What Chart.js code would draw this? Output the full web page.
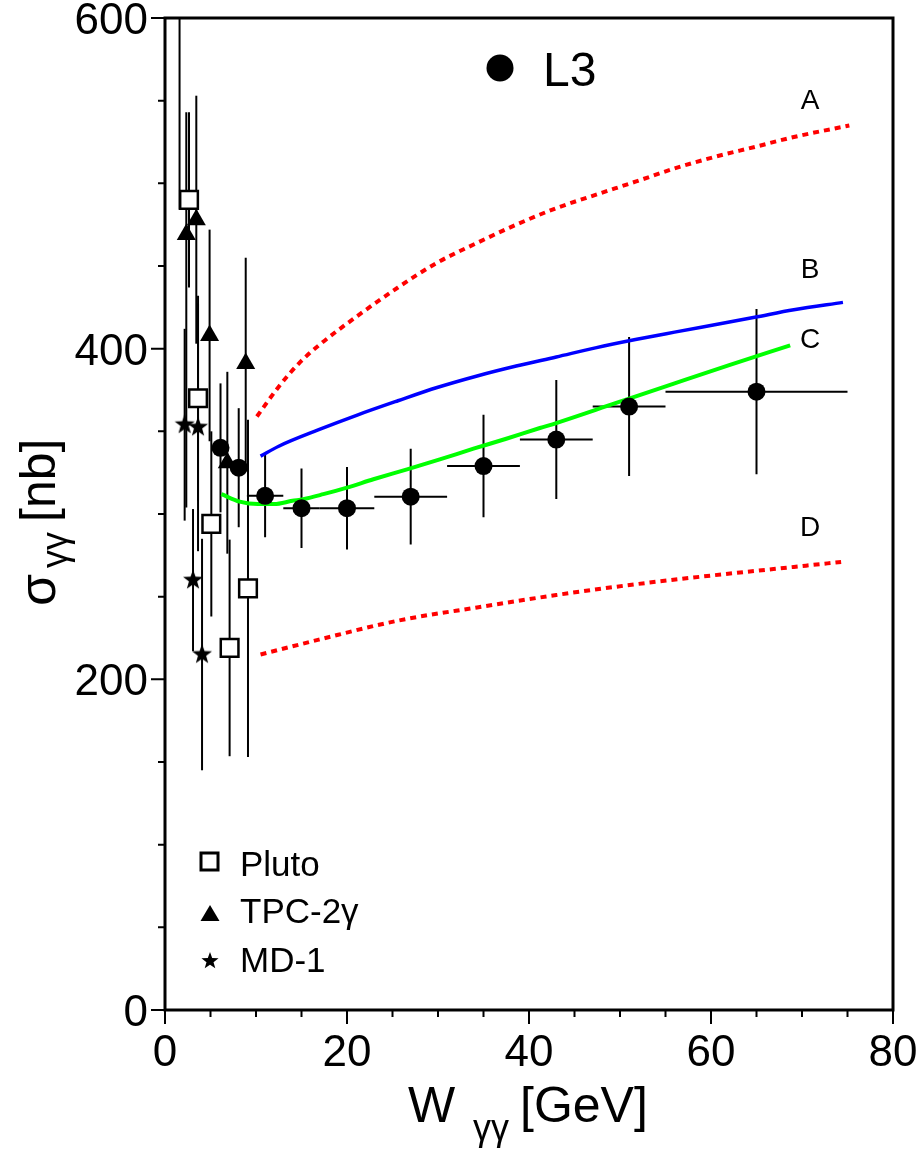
<!DOCTYPE html>
<html>
<head>
<meta charset="utf-8">
<script src="https://cdn.jsdelivr.net/npm/chart.js@4.4.1/dist/chart.umd.min.js"></script>
<style>
  html, body { margin: 0; padding: 0; background: #fff; }
  canvas { display: block; }
</style>
</head>
<body>
<canvas id="c" width="923" height="1155"></canvas>
<script>
// ---- L3 total cross-section (filled circles) ----
const l3W      = [6.1, 8.1, 11, 15, 20, 27, 35, 43, 51, 65];
const l3Sigma  = [340, 328, 311, 303.5, 303.5, 310.5, 329, 345, 365, 374];
const l3Err    = [39, 36, 25, 24, 25, 29, 31, 36, 42, 50];
const l3WErr   = [0, 0, 2, 2, 3, 4, 4, 4, 4, 10];

// ---- PLUTO (open squares) ----
const plutoW     = [1.6, 2.64, 3.63, 5.09, 7.1, 9.12];
const plutoSigma = [660, 490, 370, 294, 219, 255];
const plutoErr   = [176, 53, 62, 56, 65.5, 102];

// ---- TPC-2gamma (triangles) ----
const tpcW       = [2.34, 3.44, 4.9, 6.85, 8.87];
const tpcSigma   = [469, 478, 408, 331, 391];
const tpcErrUp   = [74, 75, 64, 55, 64];
const tpcErrDown = [165, 75, 64, 55, 64];

// ---- MD-1 (stars) ----
const md1W     = [2.16, 3.63, 3.08, 4.07];
const md1Sigma = [354, 352.5, 260, 215];
const md1Err   = [58, 75, 43, 70];

// ---- model curves ----
const curveAW = [10.1, 12.5, 14.7, 16.9, 21.2, 25.6, 29.9, 34.3, 38.6, 43.0, 47.3, 51.7, 56.0, 60.4, 64.8, 69.1, 75.2];
const curveAS = [359, 377, 391, 402, 420, 437, 452, 464, 475, 485, 493, 501, 509, 516, 522, 528, 535];
const curveBW = [10.5, 12.5, 16.9, 21.2, 25.6, 29.9, 34.3, 38.6, 43.0, 47.3, 51.7, 56.0, 60.4, 64.8, 69.1, 74.5];
const curveBS = [335, 341, 351, 360, 368.5, 376.5, 383.5, 389.5, 395, 400.5, 405.5, 410, 414.5, 419, 423.5, 428];
const curveCW = [6.2, 8.2, 10.2, 12, 14, 15.2, 17.4, 20, 22.9, 26.6, 30.2, 33.9, 37.5, 41.2, 43, 49.5, 56, 62, 68.7];
const curveCS = [312, 307.5, 306, 306, 308, 309, 312, 316, 321, 327, 333, 339.5, 345.5, 352, 355, 367, 379, 390, 402];
const curveDW = [10.5, 16.9, 25.6, 34.3, 43.0, 51.7, 60.4, 69.1, 74.3];
const curveDS = [215, 224, 235.5, 243.5, 251, 257.5, 263, 268, 271];

// ---- axes ----
const xMinorStep = 5;
const yMinorStep = 50;
const xTickValues = [0, 20, 40, 60, 80];
const yTickValues = [0, 200, 400, 600];
const curveLabels = [
  { text: 'A', w: 70.9, s: 551 },
  { text: 'B', w: 70.9, s: 449 },
  { text: 'C', w: 70.9, s: 406.5 },
  { text: 'D', w: 70.9, s: 292.5 }
];

const FONT = '"Liberation Sans", Arial, Helvetica, sans-serif';

function drawStar(g, cx, cy, rOuter, rInner) {
  g.beginPath();
  for (let i = 0; i < 10; i++) {
    const r = i % 2 === 0 ? rOuter : rInner;
    const a = -Math.PI / 2 + i * Math.PI / 5;
    const px = cx + r * Math.cos(a), py = cy + r * Math.sin(a);
    if (i === 0) g.moveTo(px, py); else g.lineTo(px, py);
  }
  g.closePath();
  g.fillStyle = '#000';
  g.fill();
}
function starImage(rOuter, rInner, size) {
  const c = document.createElement('canvas');
  c.width = size; c.height = size;
  drawStar(c.getContext('2d'), size / 2, size / 2, rOuter, rInner);
  return c;
}
const starMarker = starImage(10.5, 4.3, 26);

const pts = (xs, ys) => xs.map((x, i) => ({ x: x, y: ys[i] }));

const errorSets = [
  { w: l3W, s: l3Sigma, up: l3Err, down: l3Err, wErr: l3WErr },
  { w: plutoW, s: plutoSigma, up: plutoErr, down: plutoErr },
  { w: tpcW, s: tpcSigma, up: tpcErrUp, down: tpcErrDown },
  { w: md1W, s: md1Sigma, up: md1Err, down: md1Err }
];

// vertical (and horizontal) error bars, drawn beneath the markers
const errorBarPlugin = {
  id: 'errorBars',
  beforeDatasetsDraw(chart) {
    const { ctx, chartArea: a, scales: { x, y } } = chart;
    ctx.save();
    ctx.beginPath();
    ctx.rect(a.left, a.top, a.right - a.left, a.bottom - a.top);
    ctx.clip();
    ctx.strokeStyle = '#000';
    ctx.lineWidth = 2;
    errorSets.forEach(set => {
      set.w.forEach((w, i) => {
        const px = x.getPixelForValue(w);
        const py = y.getPixelForValue(set.s[i]);
        ctx.beginPath();
        ctx.moveTo(px, y.getPixelForValue(set.s[i] + set.up[i]));
        ctx.lineTo(px, y.getPixelForValue(set.s[i] - set.down[i]));
        if (set.wErr && set.wErr[i] > 0) {
          ctx.moveTo(x.getPixelForValue(w - set.wErr[i]), py);
          ctx.lineTo(x.getPixelForValue(w + set.wErr[i]), py);
        }
        ctx.stroke();
      });
    });
    ctx.restore();
  }
};

// frame, ticks, tick labels, titles, legend and annotations
const framePlugin = {
  id: 'frameAndText',
  afterDraw(chart) {
    const { ctx, chartArea: a, scales: { x, y } } = chart;
    ctx.save();
    ctx.strokeStyle = '#000';
    ctx.lineWidth = 2;
    ctx.beginPath();
    for (let v = x.min; v <= x.max; v += xMinorStep) {
      const px = x.getPixelForValue(v);
      const len = xTickValues.includes(v) ? 14 : 7;
      ctx.moveTo(px, a.bottom);
      ctx.lineTo(px, a.bottom + len);
    }
    for (let v = y.min; v <= y.max; v += yMinorStep) {
      const py = y.getPixelForValue(v);
      const len = yTickValues.includes(v) ? 14 : 7;
      ctx.moveTo(a.left, py);
      ctx.lineTo(a.left - len, py);
    }
    ctx.stroke();
    ctx.lineWidth = 3;
    ctx.strokeRect(a.left, a.top, a.right - a.left, a.bottom - a.top);

    ctx.fillStyle = '#000';
    ctx.textBaseline = 'alphabetic';

    // tick labels
    ctx.font = '44px ' + FONT;
    ctx.textAlign = 'center';
    xTickValues.forEach(v => ctx.fillText(String(v), x.getPixelForValue(v), a.bottom + 56));
    ctx.textAlign = 'right';
    yTickValues.forEach(v => ctx.fillText(String(v), a.left - 17, y.getPixelForValue(v) + 16));

    // curve labels
    ctx.font = '28px ' + FONT;
    ctx.textAlign = 'center';
    curveLabels.forEach(l => {
      ctx.fillText(l.text, x.getPixelForValue(l.w), y.getPixelForValue(l.s) + 10);
    });

    // experiment tag
    ctx.beginPath();
    ctx.arc(500, 68, 13.5, 0, Math.PI * 2);
    ctx.fill();
    ctx.textAlign = 'left';
    ctx.font = '48px ' + FONT;
    ctx.fillText('L3', 543, 86);

    // legend
    ctx.lineWidth = 3;
    ctx.strokeRect(201, 853, 17, 17);
    ctx.beginPath();
    ctx.moveTo(210, 905); ctx.lineTo(219.5, 921); ctx.lineTo(200.5, 921); ctx.closePath();
    ctx.fill();
    drawStar(ctx, 210, 961, 9, 3.7);
    ctx.fillStyle = '#000';
    ctx.font = '35px ' + FONT;
    ctx.fillText('Pluto', 240, 876);
    ctx.fillText('TPC-2\u03B3', 240, 923);
    ctx.fillText('MD-1', 240, 972);

    // x title
    ctx.font = '50px ' + FONT;
    ctx.fillText('W', 408, 1122);
    ctx.font = '36px ' + FONT;
    ctx.fillText('\u03B3\u03B3', 473, 1140);
    ctx.font = '50px ' + FONT;
    ctx.fillText('[GeV]', 520, 1122);

    // y title (rotated)
    ctx.save();
    ctx.translate(55, 606);
    ctx.rotate(-Math.PI / 2);
    ctx.font = '52px ' + FONT;
    ctx.fillText('\u03C3', 0, 0);
    ctx.font = '36px ' + FONT;
    ctx.fillText('\u03B3\u03B3', 38, 12);
    ctx.font = '50px ' + FONT;
    ctx.fillText('[nb]', 84, 0);
    ctx.restore();

    ctx.restore();
  }
};

new Chart(document.getElementById('c'), {
  type: 'scatter',
  data: {
    datasets: [
      { label: 'L3', data: pts(l3W, l3Sigma), pointStyle: 'circle', pointRadius: 9,
        backgroundColor: '#000', borderColor: '#000', borderWidth: 0 },
      { label: 'Pluto', data: pts(plutoW, plutoSigma), pointStyle: 'rect', pointRadius: 12.5,
        backgroundColor: '#fff', borderColor: '#000', borderWidth: 2.5 },
      { label: 'TPC-2\u03B3', data: pts(tpcW, tpcSigma), pointStyle: 'triangle', pointRadius: 11,
        backgroundColor: '#000', borderColor: '#000', borderWidth: 0 },
      { label: 'MD-1', data: pts(md1W, md1Sigma), pointStyle: starMarker, pointRadius: 10 },
      { label: 'A', data: pts(curveAW, curveAS), showLine: true, pointRadius: 0,
        borderColor: '#ff0000', borderWidth: 4, borderDash: [6, 5], cubicInterpolationMode: 'monotone' },
      { label: 'B', data: pts(curveBW, curveBS), showLine: true, pointRadius: 0,
        borderColor: '#0000ff', borderWidth: 3.5, cubicInterpolationMode: 'monotone' },
      { label: 'C', data: pts(curveCW, curveCS), showLine: true, pointRadius: 0,
        borderColor: '#00ff00', borderWidth: 4, cubicInterpolationMode: 'monotone' },
      { label: 'D', data: pts(curveDW, curveDS), showLine: true, pointRadius: 0,
        borderColor: '#ff0000', borderWidth: 4, borderDash: [6, 5], cubicInterpolationMode: 'monotone' }
    ]
  },
  options: {
    responsive: false,
    devicePixelRatio: 1,
    animation: false,
    events: [],
    layout: { padding: { top: 18, right: 30, left: 0, bottom: 0 } },
    plugins: { legend: { display: false }, tooltip: { enabled: false } },
    scales: {
      x: {
        type: 'linear', min: 0, max: 80,
        afterFit: s => { s.height = 145; },
        grid: { display: false, drawTicks: false },
        border: { display: false },
        ticks: { display: false }
      },
      y: {
        type: 'linear', min: 0, max: 600,
        afterFit: s => { s.width = 165; },
        grid: { display: false, drawTicks: false },
        border: { display: false },
        ticks: { display: false }
      }
    }
  },
  plugins: [errorBarPlugin, framePlugin]
});
</script>
</body>
</html>
